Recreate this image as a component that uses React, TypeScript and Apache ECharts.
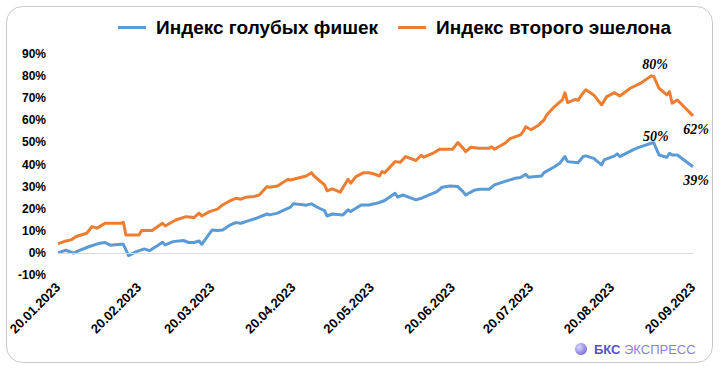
import React, { useEffect, useRef } from "react";
import * as echarts from "echarts";

const blueName = "Индекс голубых фишек";
const orangeName = "Индекс второго эшелона";

const tickLabels = [
  "20.01.2023", "20.02.2023", "20.03.2023", "20.04.2023", "20.05.2023",
  "20.06.2023", "20.07.2023", "20.08.2023", "20.09.2023",
];

const yTicks = [-10, 0, 10, 20, 30, 40, 50, 60, 70, 80, 90];

const orangeDates = [
  "20.01.2023", "23.01.2023", "25.01.2023", "27.01.2023", "31.01.2023", "02.02.2023", "04.02.2023", "07.02.2023",
  "13.02.2023", "14.02.2023", "15.02.2023", "20.02.2023", "21.02.2023", "25.02.2023", "01.03.2023", "02.03.2023",
  "06.03.2023", "10.03.2023", "13.03.2023", "15.03.2023", "16.03.2023", "19.03.2023", "22.03.2023", "24.03.2023",
  "27.03.2023", "29.03.2023", "31.03.2023", "02.04.2023", "05.04.2023", "07.04.2023", "10.04.2023", "11.04.2023",
  "14.04.2023", "18.04.2023", "19.04.2023", "25.04.2023", "27.04.2023", "28.04.2023", "02.05.2023", "03.05.2023",
  "05.05.2023", "08.05.2023", "11.05.2023", "12.05.2023", "14.05.2023", "17.05.2023", "19.05.2023", "21.05.2023",
  "23.05.2023", "24.05.2023", "25.05.2023", "29.05.2023", "31.05.2023", "02.06.2023", "06.06.2023", "08.06.2023",
  "09.06.2023", "13.06.2023", "15.06.2023", "20.06.2023", "22.06.2023", "24.06.2023", "25.06.2023", "27.06.2023",
  "30.06.2023", "04.07.2023", "05.07.2023", "06.07.2023", "10.07.2023", "12.07.2023", "16.07.2023", "17.07.2023",
  "18.07.2023", "20.07.2023", "23.07.2023", "25.07.2023", "26.07.2023", "29.07.2023", "01.08.2023", "02.08.2023",
  "03.08.2023", "06.08.2023", "07.08.2023", "09.08.2023", "10.08.2023", "13.08.2023", "16.08.2023", "18.08.2023",
  "21.08.2023", "23.08.2023", "27.08.2023", "31.08.2023", "04.09.2023", "05.09.2023", "07.09.2023", "10.09.2023",
  "11.09.2023", "12.09.2023", "14.09.2023", "20.09.2023",
];
const orangeValues = [
  4.1, 5.4, 5.9, 7.4, 8.9, 11.9, 11.2, 13.4,
  13.4, 13.9, 8.1, 8.1, 10.1, 10.1, 13.4, 12.2,
  14.9, 16.4, 16.0, 18.0, 16.7, 18.7, 19.8, 21.7,
  23.7, 24.7, 24.3, 25.2, 25.5, 26.2, 30.0, 29.7,
  30.3, 33.3, 33.0, 34.8, 36.3, 34.8, 30.8, 28.1,
  29.0, 27.5, 33.3, 31.5, 34.5, 36.3, 36.3, 35.7,
  34.8, 36.8, 36.3, 41.3, 41.0, 43.6, 41.8, 44.2,
  43.3, 45.4, 46.9, 46.9, 49.9, 47.4, 45.8, 47.8,
  47.4, 47.4, 48.0, 46.9, 49.6, 51.7, 53.4, 54.9,
  57.1, 55.7, 57.9, 60.2, 62.4, 66.2, 69.2, 72.5,
  68.0, 69.5, 69.0, 72.5, 73.8, 71.5, 67.0, 70.7,
  72.5, 71.0, 74.5, 76.8, 80.1, 79.8, 74.5, 71.5,
  73.0, 67.7, 69.2, 62.0,
];

const blueDates = [
  "20.01.2023", "23.01.2023", "26.01.2023", "28.01.2023", "01.02.2023", "05.02.2023", "07.02.2023", "09.02.2023",
  "13.02.2023", "14.02.2023", "15.02.2023", "16.02.2023", "19.02.2023", "22.02.2023", "24.02.2023", "27.02.2023",
  "01.03.2023", "02.03.2023", "05.03.2023", "09.03.2023", "11.03.2023", "13.03.2023", "15.03.2023", "16.03.2023",
  "18.03.2023", "20.03.2023", "22.03.2023", "24.03.2023", "27.03.2023", "29.03.2023", "31.03.2023", "03.04.2023",
  "06.04.2023", "10.04.2023", "11.04.2023", "14.04.2023", "16.04.2023", "19.04.2023", "20.04.2023", "23.04.2023",
  "25.04.2023", "27.04.2023", "30.04.2023", "02.05.2023", "03.05.2023", "05.05.2023", "09.05.2023", "11.05.2023",
  "12.05.2023", "16.05.2023", "19.05.2023", "21.05.2023", "23.05.2023", "25.05.2023", "29.05.2023", "30.05.2023",
  "01.06.2023", "06.06.2023", "08.06.2023", "09.06.2023", "12.06.2023", "14.06.2023", "16.06.2023", "19.06.2023",
  "22.06.2023", "24.06.2023", "25.06.2023", "28.06.2023", "30.06.2023", "04.07.2023", "06.07.2023", "11.07.2023",
  "14.07.2023", "16.07.2023", "18.07.2023", "19.07.2023", "24.07.2023", "25.07.2023", "29.07.2023", "31.07.2023",
  "02.08.2023", "03.08.2023", "07.08.2023", "09.08.2023", "10.08.2023", "13.08.2023", "16.08.2023", "17.08.2023",
  "21.08.2023", "22.08.2023", "23.08.2023", "28.08.2023", "30.08.2023", "01.09.2023", "04.09.2023", "05.09.2023",
  "07.09.2023", "10.09.2023", "11.09.2023", "12.09.2023", "14.09.2023", "20.09.2023",
];
const blueValues = [
  0.0, 1.2, -0.1, 1.0, 2.9, 4.4, 4.7, 3.5,
  3.9, 3.9, 1.4, -1.2, 0.6, 1.8, 1.0, 3.2,
  4.8, 3.6, 5.1, 5.6, 4.7, 4.7, 5.4, 3.9,
  7.1, 10.4, 10.1, 10.4, 12.7, 13.7, 13.4, 14.6,
  15.7, 17.6, 17.2, 18.0, 19.1, 20.7, 22.2, 21.9,
  21.6, 22.2, 20.2, 19.1, 16.7, 17.6, 17.2, 19.5,
  18.7, 21.7, 21.7, 22.2, 22.8, 23.7, 27.0, 25.2,
  26.2, 24.0, 24.7, 25.2, 26.7, 27.7, 29.7, 30.3,
  30.0, 27.7, 26.2, 28.2, 28.8, 28.8, 30.8, 32.7,
  33.8, 34.1, 35.6, 34.2, 34.8, 36.3, 39.0, 40.6,
  43.6, 41.3, 40.8, 43.6, 43.9, 42.8, 39.8, 42.1,
  43.9, 44.8, 43.6, 46.6, 47.6, 48.4, 49.6, 49.8,
  44.3, 43.3, 45.1, 44.3, 44.3, 39.0,
];

const fmt = (d: Date) => {
  const dd = String(d.getUTCDate()).padStart(2, "0");
  const mm = String(d.getUTCMonth() + 1).padStart(2, "0");
  return `${dd}.${mm}.${d.getUTCFullYear()}`;
};

function buildCalendar(): string[] {
  const out: string[] = [];
  const start = Date.UTC(2023, 0, 20);
  const end = Date.UTC(2023, 8, 20);
  for (let t = start; t <= end; t += 86400000) out.push(fmt(new Date(t)));
  return out;
}

const valueLabelStyle = {
  show: true,
  formatter: (p: any) => `${Math.round(p.value)}%`,
  fontFamily: "Liberation Serif, Times New Roman, serif",
  fontStyle: "italic",
  fontWeight: "bold",
  fontSize: 14,
  color: "#000",
};

function buildMarkPoints(dates: string[], values: number[], peakDist: number, peakDx: number) {
  let maxIdx = 0;
  values.forEach((v, i) => {
    if (v > values[maxIdx]) maxIdx = i;
  });
  const last = values.length - 1;
  return [
    {
      coord: [dates[maxIdx], values[maxIdx]],
      value: values[maxIdx],
      label: { ...valueLabelStyle, position: "top", distance: peakDist, offset: [peakDx, 0] },
    },
    {
      coord: [dates[last], values[last]],
      value: values[last],
      label: { ...valueLabelStyle, position: "bottom", distance: 6, offset: [3, 0] },
    },
  ];
}

export default function App() {
  const ref = useRef<HTMLDivElement>(null);

  useEffect(() => {
    document.body.style.margin = "0";
    if (!ref.current) return;
    const chart = echarts.init(ref.current, undefined, { renderer: "svg" });
    const categories = buildCalendar();
    const tickSet = new Set(tickLabels);

    const markPointBase = {
      symbol: "circle",
      symbolSize: 1,
      itemStyle: { color: "rgba(0,0,0,0)" },
      silent: true,
    };

    const option: any = {
      animation: false,
      backgroundColor: "#fff",
      textStyle: { fontFamily: "Liberation Sans, Arial, sans-serif" },
      legend: {
        left: 118,
        top: 18,
        padding: 0,
        itemWidth: 28,
        itemHeight: 3,
        itemGap: 20,
        icon: "rect",
        data: [blueName, orangeName],
        textStyle: {
          fontSize: 19,
          fontWeight: "bold",
          color: "#000",
          fontFamily: "Liberation Sans, Arial, sans-serif",
          padding: [0, 0, 0, 5],
        },
      },
      grid: { left: 58, right: 28, top: 54, bottom: 99, containLabel: false },
      xAxis: {
        type: "category",
        data: categories,
        boundaryGap: false,
        axisLine: { show: false },
        axisTick: { show: false },
        splitLine: { show: false },
        axisLabel: {
          interval: (_i: number, v: string) => tickSet.has(v),
          rotate: 45,
          margin: 10,
          fontSize: 13,
          fontWeight: "bold",
          color: "#000",
          fontFamily: "Liberation Sans, Arial, sans-serif",
        },
      },
      yAxis: {
        type: "value",
        min: yTicks[0],
        max: yTicks[yTicks.length - 1],
        interval: 10,
        axisLine: { show: false },
        axisTick: { show: false },
        splitLine: { show: false },
        axisLabel: {
          formatter: "{value}%",
          margin: 12,
          fontSize: 12,
          fontWeight: "bold",
          color: "#000",
          fontFamily: "Liberation Sans, Arial, sans-serif",
        },
      },
      series: [
        {
          name: blueName,
          type: "line",
          showSymbol: false,
          symbol: "none",
          color: "#5b9bd5",
          lineStyle: { width: 3, color: "#5b9bd5", join: "round" },
          data: blueDates.map((d, i) => [d, blueValues[i]]),
          markPoint: { ...markPointBase, data: buildMarkPoints(blueDates, blueValues, -1, 2) },
          markLine: {
            silent: true,
            symbol: "none",
            label: { show: false },
            lineStyle: { color: "#d9d9d9", width: 1, type: "solid" },
            data: [{ yAxis: 0 }],
          },
          z: 3,
        },
        {
          name: orangeName,
          type: "line",
          showSymbol: false,
          symbol: "none",
          color: "#ed7d31",
          lineStyle: { width: 3, color: "#ed7d31", join: "round" },
          data: orangeDates.map((d, i) => [d, orangeValues[i]]),
          markPoint: { ...markPointBase, data: buildMarkPoints(orangeDates, orangeValues, 4, 4) },
          z: 3,
        },
      ],
      graphic: [
        {
          type: "rect",
          shape: { x: 6.5, y: 6.5, width: 706, height: 356, r: 16 },
          style: { fill: "none", stroke: "#c8c8c8", lineWidth: 1 },
          silent: true,
          z: -1,
        },
        {
          type: "circle",
          shape: { cx: 581, cy: 349, r: 6 },
          style: {
            fill: new echarts.graphic.RadialGradient(0.35, 0.35, 0.8, [
              { offset: 0, color: "#ddd8fc" },
              { offset: 1, color: "#6a5fd8" },
            ]),
          },
          silent: true,
        },
        {
          type: "text",
          x: 594,
          y: 349,
          style: {
            text: "БКС",
            fill: "#5a4fcf",
            font: "bold 13px 'Liberation Sans', Arial, sans-serif",
            textVerticalAlign: "middle",
          },
          silent: true,
        },
        {
          type: "text",
          x: 624,
          y: 349,
          style: {
            text: "ЭКСПРЕСС",
            fill: "#8a82e0",
            font: "13px 'Liberation Sans', Arial, sans-serif",
            textVerticalAlign: "middle",
          },
          silent: true,
        },
      ],
    };

    chart.setOption(option);
    return () => chart.dispose();
  }, []);

  return <div ref={ref} style={{ width: 721, height: 374 }} />;
}
